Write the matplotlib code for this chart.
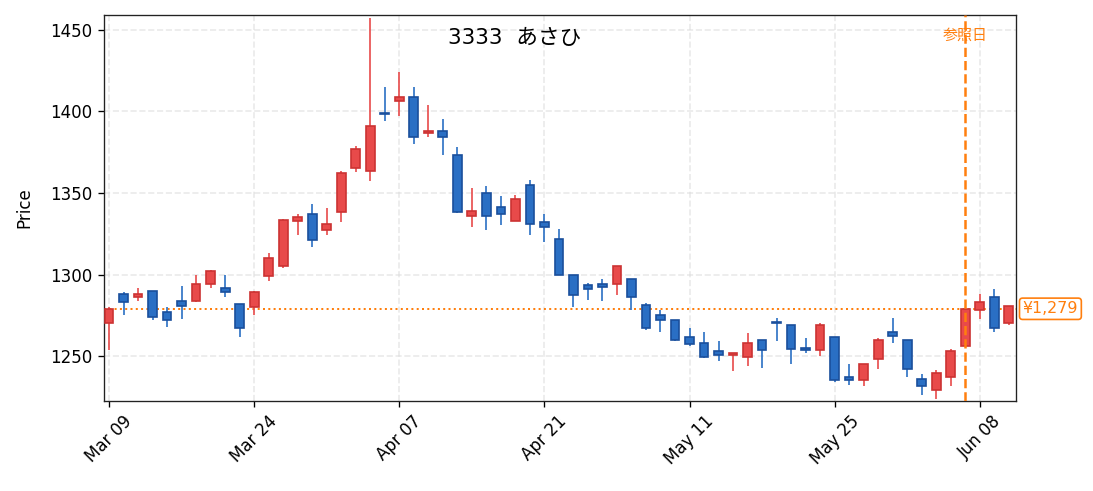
import numpy as np
import matplotlib
matplotlib.use('Agg')
import matplotlib.pyplot as plt

plt.rcParams['font.family'] = ['DejaVu Sans', 'Noto Sans CJK JP']

# 日足データ（チャートから読み取り）
dates = ['Mar 09', 'Mar 10', 'Mar 11', 'Mar 12', 'Mar 13', 'Mar 16', 'Mar 17', 'Mar 18', 'Mar 19', 'Mar 23',
         'Mar 24', 'Mar 25', 'Mar 26', 'Mar 27', 'Mar 30', 'Mar 31', 'Apr 01', 'Apr 02', 'Apr 03', 'Apr 06',
         'Apr 07', 'Apr 08', 'Apr 09', 'Apr 10', 'Apr 13', 'Apr 14', 'Apr 15', 'Apr 16', 'Apr 17', 'Apr 20',
         'Apr 21', 'Apr 22', 'Apr 23', 'Apr 24', 'Apr 27', 'Apr 28', 'Apr 30', 'May 01', 'May 07', 'May 08',
         'May 11', 'May 12', 'May 13', 'May 14', 'May 15', 'May 18', 'May 19', 'May 20', 'May 21', 'May 22',
         'May 25', 'May 26', 'May 27', 'May 28', 'May 29', 'Jun 01', 'Jun 02', 'Jun 03', 'Jun 04', 'Jun 05',
         'Jun 08', 'Jun 09', 'Jun 10']

opens = [1270, 1288, 1286, 1290, 1277, 1283.5, 1283.5, 1294, 1292, 1282,
         1280, 1299, 1305, 1333, 1337, 1327.5, 1338, 1365, 1363.5, 1399,
         1406.5, 1409, 1387, 1388, 1373, 1336, 1350, 1341.5, 1333, 1355,
         1332, 1322, 1300, 1293.5, 1294, 1294, 1297.5, 1281.5, 1275, 1272,
         1261.5, 1258, 1253, 1250.5, 1249.5, 1260, 1270.5, 1269, 1255, 1253.5,
         1261.5, 1237, 1235.5, 1248, 1264.5, 1260, 1236, 1229.5, 1237, 1256,
         1278.5, 1286, 1270]
highs = [1280, 1289, 1292, 1290, 1280, 1293, 1300, 1302.5, 1300, 1282,
         1290, 1313, 1334, 1337, 1343, 1341, 1363.5, 1379, 1457, 1415,
         1424, 1415, 1404, 1395.5, 1378, 1353, 1354.5, 1348, 1349, 1358,
         1337, 1328, 1300, 1295, 1297, 1305.5, 1297.5, 1282.5, 1278, 1272,
         1267, 1264.5, 1259.5, 1252, 1264, 1260, 1273.5, 1269, 1261, 1270.5,
         1261.5, 1245, 1245, 1261, 1273.5, 1260, 1239, 1241.5, 1254.5, 1279,
         1288, 1291, 1281]
lows = [1254, 1275, 1284, 1272, 1268, 1273, 1283, 1292, 1286, 1262,
        1275, 1296, 1304, 1324.5, 1317, 1324, 1332, 1363, 1357.5, 1394,
        1397, 1380, 1384, 1373, 1337.5, 1329, 1327.5, 1330.5, 1333, 1324.5,
        1320, 1300, 1280, 1284.5, 1283.5, 1287.5, 1278, 1266, 1264.5, 1259.5,
        1256.5, 1249, 1247, 1241, 1244, 1242.5, 1259.5, 1245, 1252, 1250,
        1234, 1232.5, 1231.5, 1242, 1258, 1237, 1226, 1224, 1231.5, 1256,
        1272.5, 1264.5, 1269]
closes = [1279, 1283, 1288, 1274, 1272, 1281, 1294.4, 1302, 1289, 1267,
          1289.5, 1310, 1333.5, 1335, 1321, 1331, 1362, 1377, 1391, 1398.5,
          1409, 1384.5, 1388, 1384, 1338, 1339, 1336, 1337, 1346.5, 1331,
          1329, 1300, 1287.5, 1291, 1292.5, 1305, 1286, 1267.5, 1272, 1260,
          1257.5, 1249.5, 1250.5, 1252, 1258, 1253.5, 1270, 1254.5, 1253.5, 1269,
          1235.5, 1235.5, 1245, 1260, 1262.5, 1242, 1231.5, 1239.5, 1253, 1279,
          1283, 1267.5, 1281]

title = '3333  あさひ'
ref_index = 59
ref_price = 1279

up_face, up_edge = '#e84a4a', '#cc3333'
down_face, down_edge = '#2a6fc4', '#1a4f9c'

fig = plt.figure(figsize=(1093 / 120, 491 / 120), dpi=120)
ax = fig.add_axes([104 / 1093, 90 / 491, 912 / 1093, 386 / 491])

x = np.arange(len(dates))
o = np.array(opens)
h = np.array(highs)
l = np.array(lows)
c = np.array(closes)
up = c >= o

# ヒゲ
for i in x:
    col = up_face if up[i] else down_face
    ax.vlines(i, l[i], h[i], color=col, linewidth=1.0, zorder=2)

# 実体
bottom = np.minimum(o, c)
height = np.maximum(np.abs(c - o), 0.6)
ax.bar(x[up], height[up], 0.6, bottom=bottom[up], color=up_face,
       edgecolor=up_edge, linewidth=1.0, zorder=3)
ax.bar(x[~up], height[~up], 0.6, bottom=bottom[~up], color=down_face,
       edgecolor=down_edge, linewidth=1.0, zorder=3)

# 参照日と参照価格
ax.axvline(ref_index, color='#ff7f0e', linestyle='--', linewidth=1.5, zorder=4)
ax.axhline(ref_price, color='#ff7f0e', linestyle=':', linewidth=1.2, zorder=1)
ax.text(ref_index, 1446.5, '参照日', color='#ff7f0e', fontsize=9, ha='center', va='center',
        family=['Noto Sans CJK JP'], zorder=5)
ax.annotate(f'¥{ref_price:,}', xy=(1.0, ref_price), xycoords=('axes fraction', 'data'),
            xytext=(4, 0), textcoords='offset points', ha='left', va='center',
            color='#ff7f0e', fontsize=9.5,
            bbox=dict(boxstyle='round,pad=0.2', fc='white', ec='#ff7f0e', lw=1.0))

ax.text(0.45, 0.94, title, transform=ax.transAxes, ha='center', va='center', fontsize=13)

ax.set_xlim(-0.35, 62.5)
ax.set_ylim(1222.5, 1459)
ticks = x[::10]
ax.set_xticks(ticks)
ax.set_xticklabels([dates[i] for i in ticks], rotation=45, ha='center')
ax.set_yticks([1250, 1300, 1350, 1400, 1450])
ax.tick_params(labelsize=10)
ax.set_ylabel('Price', fontsize=10, labelpad=10)
ax.grid(True, linestyle='--', color='#dddddd', alpha=0.6, linewidth=1)
ax.set_axisbelow(True)
for s in ax.spines.values():
    s.set_color('#222222')

fig.savefig('out.png', dpi=120)
